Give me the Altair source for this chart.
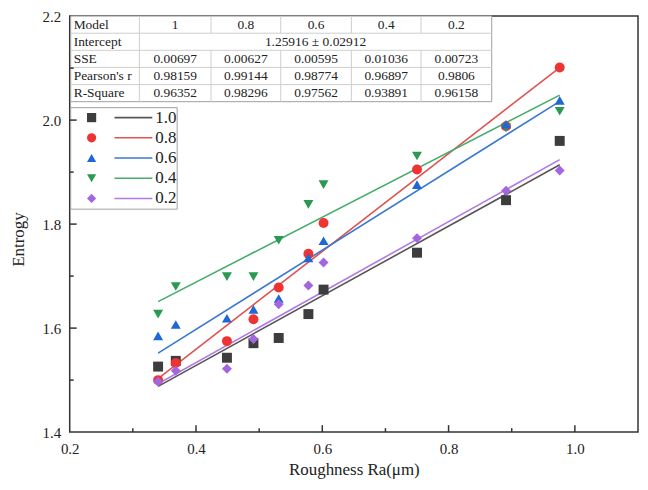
import altair as alt
import pandas as pd

# ---------------- data ----------------
x_vals = [0.340, 0.368, 0.449, 0.491, 0.531, 0.578, 0.602, 0.750, 0.891, 0.976]
series = ["1.0", "0.8", "0.6", "0.4", "0.2"]
y_10 = [1.526, 1.537, 1.543, 1.571, 1.581, 1.627, 1.674, 1.745, 1.846, 1.960]
y_08 = [1.500, 1.533, 1.575, 1.617, 1.678, 1.743, 1.802, 1.905, 1.988, 2.101]
y_06 = [1.585, 1.607, 1.619, 1.636, 1.657, 1.735, 1.768, 1.876, 1.992, 2.038]
y_04 = [1.627, 1.680, 1.699, 1.699, 1.769, 1.838, 1.876, 1.931, 1.985, 2.017]
y_02 = [1.497, 1.518, 1.522, 1.579, 1.646, 1.682, 1.726, 1.773, 1.864, 1.903]
y_all = [y_10, y_08, y_06, y_04, y_02]

fit_x = [0.340, 0.976]
fit_start = [1.488, 1.503, 1.552, 1.651, 1.493]
fit_end = [1.914, 2.101, 2.036, 2.048, 1.924]

table_header = ["Model", "1", "0.8", "0.6", "0.4", "0.2"]
row_labels = ["Intercept", "SSE", "Pearson's r", "R-Square"]
intercept_text = "1.25916 ± 0.02912"
sse = ["0.00697", "0.00627", "0.00595", "0.01036", "0.00723"]
pearson = ["0.98159", "0.99144", "0.98774", "0.96897", "0.9806"]
rsq = ["0.96352", "0.98296", "0.97562", "0.93891", "0.96158"]

x_labels = [0.2, 0.4, 0.6, 0.8, 1.0]
y_labels = [1.4, 1.6, 1.8, 2.0, 2.2]
x_major = [0.4, 0.6, 0.8, 1.0]
x_minor = [0.3, 0.5, 0.7, 0.9]
y_major = [1.6, 1.8, 2.0]
y_minor = [1.5, 1.7, 1.9, 2.1]

# ---------------- styles ----------------
marker_colors = ["#3d3d3d", "#ee3333", "#1f66d8", "#2a9a52", "#a366e0"]
line_colors = ["#555555", "#e05252", "#3a78d0", "#45ad6a", "#b27ae6"]
shapes = ["square", "circle", "triangle-up", "triangle-down", "diamond"]
FONT = "Liberation Serif"
W, H = 571, 418

draw_order = [0, 1, 3, 2, 4]
pts_rows = []
for i in draw_order:
    for xv, yv in zip(x_vals, y_all[i]):
        pts_rows.append({"x": xv, "y": yv, "series": series[i],
                         "mc": marker_colors[i], "shape": shapes[i]})
pts_df = pd.DataFrame(pts_rows)

fit_df = pd.DataFrame({
    "series": series, "x0": [fit_x[0]] * 5, "x1": [fit_x[1]] * 5,
    "y0": fit_start, "y1": fit_end, "lc": line_colors,
})

xscale = alt.Scale(domain=[0.2, 1.1], nice=False, zero=False)
yscale = alt.Scale(domain=[1.4, 2.2], nice=False, zero=False)

xaxis = alt.Axis(values=x_labels, format=".1f", ticks=False, labelFlush=False,
                 domain=False, grid=False, labelPadding=9, titlePadding=6)
yaxis = alt.Axis(values=y_labels, format=".1f", ticks=False, labelFlush=False,
                 domain=False, grid=False, labelPadding=9, titlePadding=15,
                 titleFontSize=17, titleY=224)

lines = alt.Chart(fit_df).mark_rule(strokeWidth=1.6).encode(
    x=alt.X("x0:Q", scale=xscale, axis=xaxis, title="Roughness Ra(μm)"),
    x2="x1:Q",
    y=alt.Y("y0:Q", scale=yscale, axis=yaxis, title="Entrogy"),
    y2="y1:Q",
    color=alt.Color("lc:N", scale=None),
)

points = alt.Chart(pts_df).mark_point(filled=True, size=100, opacity=1).encode(
    x=alt.X("x:Q", scale=xscale),
    y=alt.Y("y:Q", scale=yscale),
    color=alt.Color("mc:N", scale=None),
    shape=alt.Shape("shape:N", scale=None),
)

# ticks (inward)
xt_df = pd.DataFrame({"v": x_major + x_minor,
                      "len": [7] * len(x_major) + [4] * len(x_minor)})
xt_df["y0"] = H
xt_df["y1"] = H - xt_df["len"]
yt_df = pd.DataFrame({"v": y_major + y_minor,
                      "len": [7] * len(y_major) + [4] * len(y_minor)})
yt_df["x0"] = 0
yt_df["x1"] = yt_df["len"]

xticks = alt.Chart(xt_df).mark_rule(color="#333", strokeWidth=1.5).encode(
    x=alt.X("v:Q", scale=xscale),
    y=alt.Y("y0:Q", scale=None, axis=None),
    y2="y1:Q",
)
yticks = alt.Chart(yt_df).mark_rule(color="#333", strokeWidth=1.5).encode(
    y=alt.Y("v:Q", scale=yscale),
    x=alt.X("x0:Q", scale=None, axis=None),
    x2="x1:Q",
)

# ---------------- table ----------------
col_b = [1, 70, 142, 212, 283, 353, 424]
row_top, row_h = 0, 17.2
n_rows = 5
row_b = [row_top + row_h * k for k in range(n_rows + 1)]

cells = []
table_rows = [table_header,
              [row_labels[0]],
              [row_labels[1]] + sse,
              [row_labels[2]] + pearson,
              [row_labels[3]] + rsq]
for r, row in enumerate(table_rows):
    cy = row_top + row_h * (r + 0.5)
    for c, txt in enumerate(row):
        if c == 0:
            cells.append({"tx": col_b[0] + 3, "ty": cy, "t": txt, "al": "left"})
        else:
            cells.append({"tx": (col_b[c] + col_b[c + 1]) / 2, "ty": cy, "t": txt, "al": "center"})
cells.append({"tx": (col_b[1] + col_b[-1]) / 2, "ty": row_top + row_h * 1.5,
              "t": intercept_text, "al": "center"})
cells_df = pd.DataFrame(cells)

box_df = pd.DataFrame({"x0": [col_b[0]], "x1": [col_b[-1]], "y0": [row_b[0]], "y1": [row_b[-1]]})
table_box = alt.Chart(box_df).mark_rect(fill="white", stroke="#a0a0a0", strokeWidth=1).encode(
    x=alt.X("x0:Q", scale=None, axis=None), x2="x1:Q",
    y=alt.Y("y0:Q", scale=None, axis=None), y2="y1:Q",
)

seg = []
for k in range(1, n_rows):
    seg.append({"x0": col_b[0], "x1": col_b[-1], "y0": row_b[k], "y1": row_b[k]})
for c in range(1, len(col_b) - 1):
    if c == 1:
        seg.append({"x0": col_b[c], "x1": col_b[c], "y0": row_b[0], "y1": row_b[-1]})
    else:
        seg.append({"x0": col_b[c], "x1": col_b[c], "y0": row_b[0], "y1": row_b[1]})
        seg.append({"x0": col_b[c], "x1": col_b[c], "y0": row_b[2], "y1": row_b[-1]})
seg_df = pd.DataFrame(seg)
table_lines = alt.Chart(seg_df).mark_rule(color="#cfcfcf", strokeWidth=1).encode(
    x=alt.X("x0:Q", scale=None, axis=None), x2="x1:Q",
    y=alt.Y("y0:Q", scale=None, axis=None), y2="y1:Q",
)

table_left = alt.Chart(cells_df[cells_df["al"] == "left"]).mark_text(
    font=FONT, fontSize=13.5, align="left", baseline="middle", color="#222").encode(
    x=alt.X("tx:Q", scale=None, axis=None), y=alt.Y("ty:Q", scale=None, axis=None), text="t:N")
table_center = alt.Chart(cells_df[cells_df["al"] == "center"]).mark_text(
    font=FONT, fontSize=13.5, align="center", baseline="middle", color="#222").encode(
    x=alt.X("tx:Q", scale=None, axis=None), y=alt.Y("ty:Q", scale=None, axis=None), text="t:N")

# ---------------- legend ----------------
leg_top, leg_bottom = 92, 194
leg_rows_y = [102 + 20.3 * k for k in range(5)]
leg_df = pd.DataFrame({
    "series": series, "ly": leg_rows_y,
    "sx": [22] * 5, "l0": [45] * 5, "l1": [83] * 5, "tx": [86] * 5,
    "mc": marker_colors, "lc": line_colors, "shape": shapes,
})
leg_box_df = pd.DataFrame({"x0": [1], "x1": [108], "y0": [leg_top], "y1": [leg_bottom]})
leg_box = alt.Chart(leg_box_df).mark_rect(fill="white", stroke="#a0a0a0", strokeWidth=1).encode(
    x=alt.X("x0:Q", scale=None, axis=None), x2="x1:Q",
    y=alt.Y("y0:Q", scale=None, axis=None), y2="y1:Q",
)
leg_sym = alt.Chart(leg_df).mark_point(filled=True, size=85, opacity=1).encode(
    x=alt.X("sx:Q", scale=None, axis=None), y=alt.Y("ly:Q", scale=None, axis=None),
    color=alt.Color("mc:N", scale=None), shape=alt.Shape("shape:N", scale=None),
)
leg_line = alt.Chart(leg_df).mark_rule(strokeWidth=1.6).encode(
    x=alt.X("l0:Q", scale=None, axis=None), x2="l1:Q",
    y=alt.Y("ly:Q", scale=None, axis=None),
    color=alt.Color("lc:N", scale=None),
)
leg_text = alt.Chart(leg_df).mark_text(font=FONT, fontSize=17, align="left",
                                       baseline="middle", color="#222").encode(
    x=alt.X("tx:Q", scale=None, axis=None), y=alt.Y("ly:Q", scale=None, axis=None),
    text="series:N",
)

chart = alt.layer(
    lines, points, table_box, table_lines, table_left, table_center,
    leg_box, leg_line, leg_sym, leg_text, xticks, yticks,
).properties(
    width=W, height=H,
    autosize=alt.AutoSizeParams(type="none"),
    padding={"left": 62, "top": 7, "right": 2, "bottom": 50},
).configure_view(
    stroke="#333", strokeWidth=1.5,
).configure_axis(
    labelFont=FONT, labelFontSize=15, labelColor="#222",
    titleFont=FONT, titleFontSize=17, titleFontWeight="normal", titleColor="#222",
)

chart.save("out.html", embed_options={"renderer": "svg", "actions": False})
